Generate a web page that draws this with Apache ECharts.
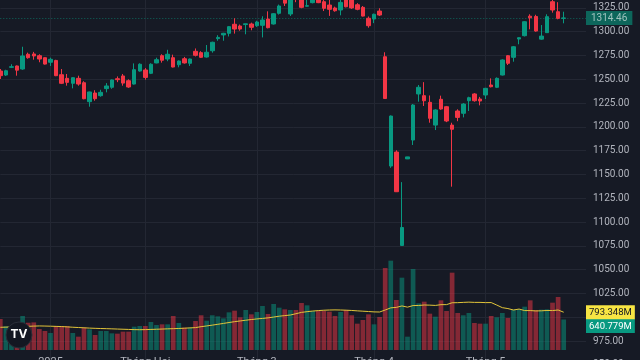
<!DOCTYPE html>
<html><head><meta charset="utf-8">
<script src="https://cdn.jsdelivr.net/npm/echarts/dist/echarts.min.js"></script>
<style>html,body{margin:0;padding:0;background:#161a25;}#c{width:640px;height:360px;}</style>
</head><body><div id="c"></div>
<script>
const dates = [
'2024-12-19','2024-12-20','2024-12-23','2024-12-24','2024-12-25','2024-12-26','2024-12-27','2024-12-30','2024-12-31',
'2025-01-02','2025-01-03','2025-01-06','2025-01-07','2025-01-08','2025-01-09','2025-01-10','2025-01-13','2025-01-14','2025-01-15','2025-01-16','2025-01-17','2025-01-20','2025-01-21','2025-01-22','2025-01-23','2025-01-24',
'2025-02-03','2025-02-04','2025-02-05','2025-02-06','2025-02-07','2025-02-10','2025-02-11','2025-02-12','2025-02-13','2025-02-14','2025-02-17','2025-02-18','2025-02-19','2025-02-20','2025-02-21','2025-02-24','2025-02-25','2025-02-26','2025-02-27','2025-02-28',
'2025-03-03','2025-03-04','2025-03-05','2025-03-06','2025-03-07','2025-03-10','2025-03-11','2025-03-12','2025-03-13','2025-03-14','2025-03-17','2025-03-18','2025-03-19','2025-03-20','2025-03-21','2025-03-24','2025-03-25','2025-03-26','2025-03-27','2025-03-28','2025-03-31',
'2025-04-01','2025-04-02','2025-04-03','2025-04-04','2025-04-08','2025-04-09','2025-04-10','2025-04-11','2025-04-14','2025-04-15','2025-04-16','2025-04-17','2025-04-18','2025-04-21','2025-04-22','2025-04-23','2025-04-24','2025-04-25','2025-04-28','2025-04-29',
'2025-05-05','2025-05-06','2025-05-07','2025-05-08','2025-05-09','2025-05-12','2025-05-13','2025-05-14','2025-05-15','2025-05-16','2025-05-19','2025-05-20','2025-05-21','2025-05-22','2025-05-23'
];
const opens = [
1258.7,1254.5,1262.6,1264,1260.8,1276.3,1276.6,1274.8,1272.7,1267.9,
1269.8,1254.8,1251,1245.8,1251,1246.4,1226.5,1235.6,1232.8,1240.2,
1241.6,1250.6,1253.5,1248.5,1245,1258.7,1259.8,1256.3,1267.2,1274.8,
1271.3,1272.7,1265.3,1271.6,1266.8,1279.4,1278,1273.4,1280,1292.7,
1296.6,1298.3,1307.8,1306,1307.5,1308.1,1306.3,1306.7,1313.3,1308.1,
1319.3,1336,1318.6,1340,1336,1326.8,1330.5,1339,1331.5,1328,
1324.9,1322.8,1336,1334,1328.3,1325.6,1314.1,1313.3,1321.7,1273.7,
1158.9,1173.6,1075.5,1166.4,1186.2,1234.6,1232.8,1225.8,1201.9,1229,
1221.2,1201.9,1216.7,1214.3,1227.5,1234.6,1229.3,1233.5,1244,1241.6,
1254.5,1274.8,1273.1,1292.3,1295.8,1316.3,1316,1292.2,1299,1331.5,
1321,1314];
const closes = [
1253.8,1259,1263.2,1259.6,1274.5,1272.7,1274.5,1271.3,1266,1271,
1253.8,1245.8,1246.8,1251.7,1245,1229.6,1236.7,1229.6,1236.3,1243,
1249.3,1249.6,1246,1241.9,1260.1,1265.8,1252,1265.8,1270.6,1270,
1276.3,1262.9,1269.2,1267.2,1271.3,1275.2,1273.1,1278.4,1288.9,1294,
1298.3,1305.3,1302.8,1302.8,1308.3,1304.6,1310.2,1312.3,1304.2,1318.9,
1327,1330,1337,1335,1325.6,1327.3,1338,1330.5,1324.6,1323.5,
1322,1330.8,1326.2,1325,1323.5,1316.4,1306.3,1318.3,1317.5,1229.8,
1211.4,1131.9,1094.3,1168.5,1223,1241.6,1227.5,1209,1217.8,1218.8,
1206.2,1197.5,1210,1224,1230.7,1227.5,1227.2,1240.5,1242.2,1251,
1270.3,1266.8,1284.2,1293.7,1310.5,1314.6,1300.7,1295.4,1315.8,1322.8,
1314,1314.46];
const lows = [
1250.3,1253.5,1261.8,1253.8,1260,1271.6,1270.6,1267.9,1265.5,1264,
1253.3,1245,1243.3,1240.5,1243.3,1229,1221.2,1227.5,1231.7,1236.3,
1240,1247,1243.3,1241,1244.5,1258,1249.6,1255.5,1266.8,1267.5,
1269,1262.5,1262.6,1266.5,1264,1274,1272.5,1272.8,1278,1290.5,
1290.5,1295,1298,1301,1297.3,1301.5,1305,1294,1303.5,1307.5,
1318,1327,1316.5,1331,1324.6,1326.3,1329.8,1330,1321.7,1316.6,
1321,1317.2,1325.6,1324,1322.5,1316,1304.2,1309,1316.5,1229.6,
1157,1131.6,1075,1166.2,1181,1226.5,1222,1204.4,1196.7,1218,
1205,1137.2,1206,1210,1216.7,1226.5,1222.6,1229.3,1241.5,1240.8,
1254,1265,1268.5,1286.8,1295,1302.5,1300,1291.5,1298.8,1320,
1313,1308.8];
const highs = [
1260.8,1260,1265.8,1264.5,1284.2,1278,1278.8,1276.3,1273,1272.7,
1270.5,1260.8,1255.6,1252,1253.8,1248,1237,1238.5,1239,1246,
1249.8,1253,1255.6,1250,1266.7,1266.8,1261.8,1266.8,1272.7,1276.3,
1281,1275.9,1269.8,1273.5,1271.8,1282.4,1279.5,1286,1289.5,1296.3,
1298.8,1305.8,1314.1,1307.5,1308.5,1309.5,1311.5,1316.2,1321.4,1319.5,
1328.5,1338,1339,1342,1338,1335,1340,1341,1336,1335,
1326.3,1334,1338,1336,1330,1327,1316,1319,1324.6,1278.4,
1212,1175.4,1142,1168.6,1224,1244,1247,1233,1218.5,1232.8,
1222,1204.4,1218.5,1225,1231.7,1235.5,1231.5,1241,1251,1252,
1271,1275.5,1285,1294,1311,1318.3,1317.8,1307,1318.3,1334,
1331,1321];
const volumes = [
651,500,350,480,714,573,580,441,399,357,
504,504,504,357,280,469,434,315,399,399,
350,343,385,385,490,504,504,588,525,539,
539,714,567,469,469,609,729,616,729,707,
665,791,826,686,840,749,798,924,756,966,
889,854,840,840,987,938,819,819,819,805,
714,798,840,729,553,630,749,539,693,1722,
1876,1050,1519,280,1701,980,1015,763,700,1043,
819,1624,777,729,777,567,553,553,714,686,
777,672,847,861,910,1043,840,847,854,994,
1113,640.779];
const volumeMA = [
477,480,484,488,492,497,502,505,503,500,
496,492,485,478,472,466,460,455,451,448,
444,440,436,432,428,426,428,432,436,440,
444,448,452,458,464,470,490,505,522,540,
558,577,595,610,625,640,652,663,675,692,
710,722,735,762,790,805,818,828,835,840,
842,840,836,830,822,815,808,800,798,840,
885,895,925,900,933,935,945,942,936,952,
953,992,994,1000,1005,1000,1000,995,996,944,
889,870,840,860,828,828,820,823,830,828,
840,793.348];
const monthTicks = {'2025-01-02':'2025','2025-02-03':'Tháng Hai','2025-03-03':'Tháng 3','2025-04-01':'Tháng 4','2025-05-05':'Tháng 5'};
const lastPrice = 1314.46;
const lastVolume = 640.779;
const lastVolumeMA = 793.348;
const rightPadBars = 4;

const UP = '#089981', DOWN = '#f23645';
const UPV = 'rgba(8,153,129,0.5)', DOWNV = 'rgba(242,54,69,0.5)';
const TXT = '#b2b5be', GRID = '#232733';
const FONT = "Roboto, 'Liberation Sans', sans-serif";
const CLEAR = 'rgba(0,0,0,0)';

const cats = dates.concat(Array.from({length: rightPadBars}, (_, k) => 'pad' + k));
const isTick = (i) => monthTicks[cats[i]] !== undefined;
const candleData = dates.map((d, i) => [opens[i], closes[i], lows[i], highs[i]]);
const volData = volumes.map((v, i) => ({value: v, itemStyle: {color: closes[i] >= opens[i] ? UPV : DOWNV}}));

const badge = (bg, fg) => ({backgroundColor: bg, color: fg, fontSize: 9.5, fontFamily: FONT, padding: [1, 3, 0, 3], height: 13, lineHeight: 13});

const chart = echarts.init(document.getElementById('c'), null, {renderer: 'canvas', width: 640, height: 360});
chart.setOption({
  animation: false,
  backgroundColor: '#161a25',
  grid: [
    {left: 0.3, right: 54, top: -15.9, bottom: -4.9, containLabel: false, outerBoundsMode: 'none'},
    {left: 0.3, right: 54, top: 250, bottom: 10, containLabel: false, outerBoundsMode: 'none'}
  ],
  xAxis: [
    {gridIndex: 0, type: 'category', data: cats, boundaryGap: false,
     axisLine: {show: false}, axisTick: {show: false}, axisLabel: {show: false},
     splitLine: {show: true, interval: (i) => isTick(i), lineStyle: {color: GRID, width: 1}}},
    {gridIndex: 1, type: 'category', data: cats, boundaryGap: false,
     axisLine: {show: false}, axisTick: {show: false}, splitLine: {show: false},
     axisLabel: {show: true, interval: (i) => isTick(i), formatter: (v) => monthTicks[v] || '',
       color: TXT, fontSize: 11, margin: 7, fontFamily: FONT, hideOverlap: false}}
  ],
  yAxis: [
    {gridIndex: 0, type: 'value', position: 'right', min: 950, max: 1350, interval: 25,
     axisLine: {show: false}, axisTick: {show: false},
     splitLine: {show: true, lineStyle: {color: GRID, width: 1}},
     axisLabel: {color: TXT, fontSize: 10, margin: 7, fontFamily: FONT,
       formatter: (v) => (v === 1000 ? '' : v.toFixed(2))}},
    {gridIndex: 1, type: 'value', min: 0, max: 2100, show: false, splitLine: {show: false}}
  ],
  series: [
    {type: 'bar', name: 'Volume', xAxisIndex: 1, yAxisIndex: 1, data: volData, barWidth: 4.7, z: 1,
     markLine: {silent: true, symbol: ['none', 'none'], z: 10, lineStyle: {color: CLEAR, width: 1, type: 'solid'},
       data: [{yAxis: lastVolume}],
       label: {show: true, position: 'end', distance: 0, color: '#ffffff',
         formatter: '{s| }\n{b|' + lastVolume.toFixed(3) + 'M}',
         rich: {s: {height: 13, fontSize: 1}, b: badge(UP, '#ffffff')}}}},
    {type: 'line', name: 'Volume MA', xAxisIndex: 1, yAxisIndex: 1, data: volumeMA, showSymbol: false, symbol: 'none', z: 3,
     lineStyle: {color: '#e2c53a', width: 1},
     markLine: {silent: true, symbol: ['none', 'none'], z: 10, lineStyle: {color: CLEAR, width: 1, type: 'solid'},
       data: [{yAxis: lastVolumeMA}],
       label: {show: true, position: 'end', distance: 0, color: '#131722',
         formatter: '{b|' + lastVolumeMA.toFixed(3) + 'M}',
         rich: {b: badge('#f7e543', '#131722')}}}},
    {type: 'candlestick', name: 'VNINDEX', xAxisIndex: 0, yAxisIndex: 0, data: candleData, barWidth: 4, z: 5,
     itemStyle: {color: UP, color0: DOWN, borderColor: UP, borderColor0: DOWN, borderWidth: 1},
     markLine: {silent: true, symbol: ['none', 'none'],
       lineStyle: {type: [1, 2], color: UP, width: 1, opacity: 0.6},
       data: [{yAxis: lastPrice}],
       label: {show: true, position: 'end', distance: 0,
         formatter: '{b|' + lastPrice.toFixed(2) + '}',
         rich: {b: Object.assign(badge(UP, '#ffffff'), {fontSize: 10, padding: [1, 5, 0, 5]})}}}}
  ],
  graphic: [
    {type: 'circle', left: 5.5, top: 321.5, shape: {r: 13}, style: {fill: '#131722', stroke: '#2a2e39', lineWidth: 1}, z: 50},
    {type: 'text', left: 10.5, top: 328.5, style: {text: 'TV', fill: '#ffffff', font: 'bold 12px Inter, sans-serif'}, z: 51}
  ]
});
</script>
</body></html>
